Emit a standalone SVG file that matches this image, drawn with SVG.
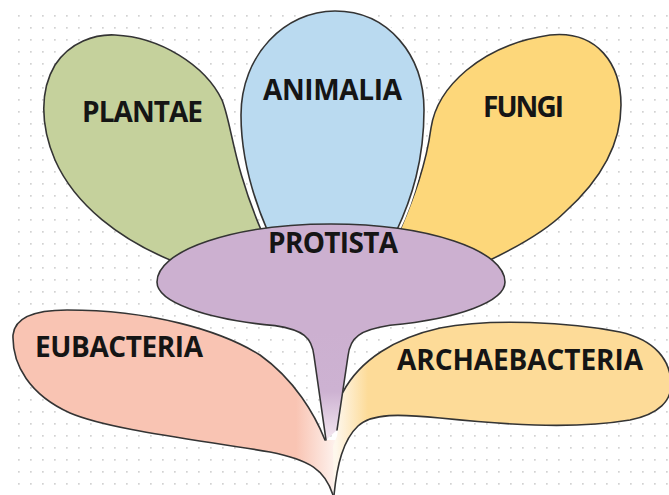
<svg xmlns="http://www.w3.org/2000/svg" xmlns:xlink="http://www.w3.org/1999/xlink" width="669" height="495" viewBox="0 0 669 495">
  <defs>
    <style>
      .edge { fill: none; stroke: #343434; stroke-width: 1.6; stroke-linejoin: round; stroke-linecap: round; }
      .shape { stroke: #343434; stroke-width: 1.6; stroke-linejoin: round; }
      .halo { fill: none; stroke: #ffffff; stroke-width: 6; }
      .nofill { stroke: none; }
      .label { font-family: "Open Sans", "Liberation Sans", sans-serif; font-weight: 700; font-size: 28px; fill: #151515; }
    </style>
    <pattern id="dots" x="18" y="15" width="12" height="12" patternUnits="userSpaceOnUse">
      <rect width="1.7" height="1.7" fill="#d2d2d2"/>
    </pattern>
    <linearGradient id="gStem" gradientUnits="userSpaceOnUse" x1="0" y1="330" x2="0" y2="442">
      <stop offset="0" stop-color="#ccb0d0"/>
      <stop offset="0.55" stop-color="#cdb2d2"/>
      <stop offset="1" stop-color="#f6eaf2"/>
    </linearGradient>
    <linearGradient id="gEu" gradientUnits="userSpaceOnUse" x1="296" y1="0" x2="337" y2="0">
      <stop offset="0" stop-color="#f9c4b3"/>
      <stop offset="1" stop-color="#fef4f0"/>
    </linearGradient>
    <linearGradient id="gAr" gradientUnits="userSpaceOnUse" x1="336" y1="0" x2="368" y2="0">
      <stop offset="0" stop-color="#fef7ec"/>
      <stop offset="1" stop-color="#fddb98"/>
    </linearGradient>
  </defs>

  <rect width="669" height="495" fill="#ffffff"/>
  <rect x="17" y="14" width="652" height="481" fill="url(#dots)"/>

  <g id="plantae">
    <path class="shape" fill="#c5d19c" d="M 175,262 C 120,240 75,205 55,160 C 40,125 40,90 55,65 C 70,42 95,34 115,35 C 160,37 205,65 222,100 C 232,125 233,165 262,232 L 280,250 L 190,272 Z"/>
    <text class="label" x="82" y="122" textLength="121">PLANTAE</text>
  </g>

  <g id="fungi">
    <path class="shape" fill="#fdd77a" d="M 400,230 C 414,197 426,165 431,128 C 437,88 480,45 550,35 C 598,30 621,65 621,105 C 621,150 595,185 565,212 C 545,232 515,248 490,260 L 470,275 L 400,262 Z"/>
    <text class="label" x="483" y="117" textLength="81">FUNGI</text>
  </g>

  <g id="animalia">
    <path class="halo" d="M 268,232 C 252,195 241,155 241,115 C 241,55 285,11 335,11 C 388,11 424,55 424,110 C 424,160 412,198 396,232"/>
    <path class="shape" fill="#badaf0" d="M 268,232 C 252,195 241,155 241,115 C 241,55 285,11 335,11 C 388,11 424,55 424,110 C 424,160 412,198 396,232 L 396,245 L 268,245 Z"/>
    <text class="label" x="263" y="100" textLength="139">ANIMALIA</text>
  </g>

  <g id="eubacteria">
    <path class="nofill" fill="url(#gEu)" d="M 325,440 C 315,415 295,380 260,355 C 220,330 150,310 67,310 C 40,310 15,315 13,335 C 12,365 30,395 70,413 C 110,430 200,440 270,452 C 310,460 325,470 333,495 L 338,440 Z"/>
    <path class="edge" d="M 325,440 C 315,415 295,380 260,355 C 220,330 150,310 67,310 C 40,310 15,315 13,335 C 12,365 30,395 70,413 C 110,430 200,440 270,452 C 310,460 325,470 333,495"/>
    <text class="label" x="35" y="357" textLength="168">EUBACTERIA</text>
  </g>

  <g id="archaebacteria">
    <path class="nofill" fill="url(#gAr)" d="M 334,495 C 337,465 343,440 358,426 C 372,413 400,414 440,418 C 500,424 570,430 630,420 C 660,414 671,400 671,385 C 671,360 655,340 620,332 C 570,322 490,318 440,328 C 395,338 360,360 343,392 L 337,436 L 333,446 Z"/>
    <path class="edge" d="M 334,495 C 337,465 343,440 358,426 C 372,413 400,414 440,418 C 500,424 570,430 630,420 C 660,414 671,400 671,385 C 671,360 655,340 620,332 C 570,322 490,318 440,328 C 395,338 360,360 343,392"/>
    <text class="label" x="397" y="370" textLength="246">ARCHAEBACTERIA</text>
  </g>

  <g id="protista">
    <path class="nofill" fill="url(#gStem)" d="M 326,440 L 314,356 C 312,337 303,330 275,325.6 A 174,46 0 0 1 157,282 A 174,58 0 0 1 505,282 A 174,46 0 0 1 390,325.3 C 360,330 350,337 348,356 L 337,430 Z"/>
    <path class="edge" d="M 326,440 L 314,356 C 312,337 303,330 275,325.6 A 174,46 0 0 1 157,282 A 174,58 0 0 1 505,282 A 174,46 0 0 1 390,325.3 C 360,330 350,337 348,356 L 337,430"/>
    <text class="label" x="268" y="253" textLength="130">PROTISTA</text>
  </g>

  <g id="connectors"></g>
</svg>
